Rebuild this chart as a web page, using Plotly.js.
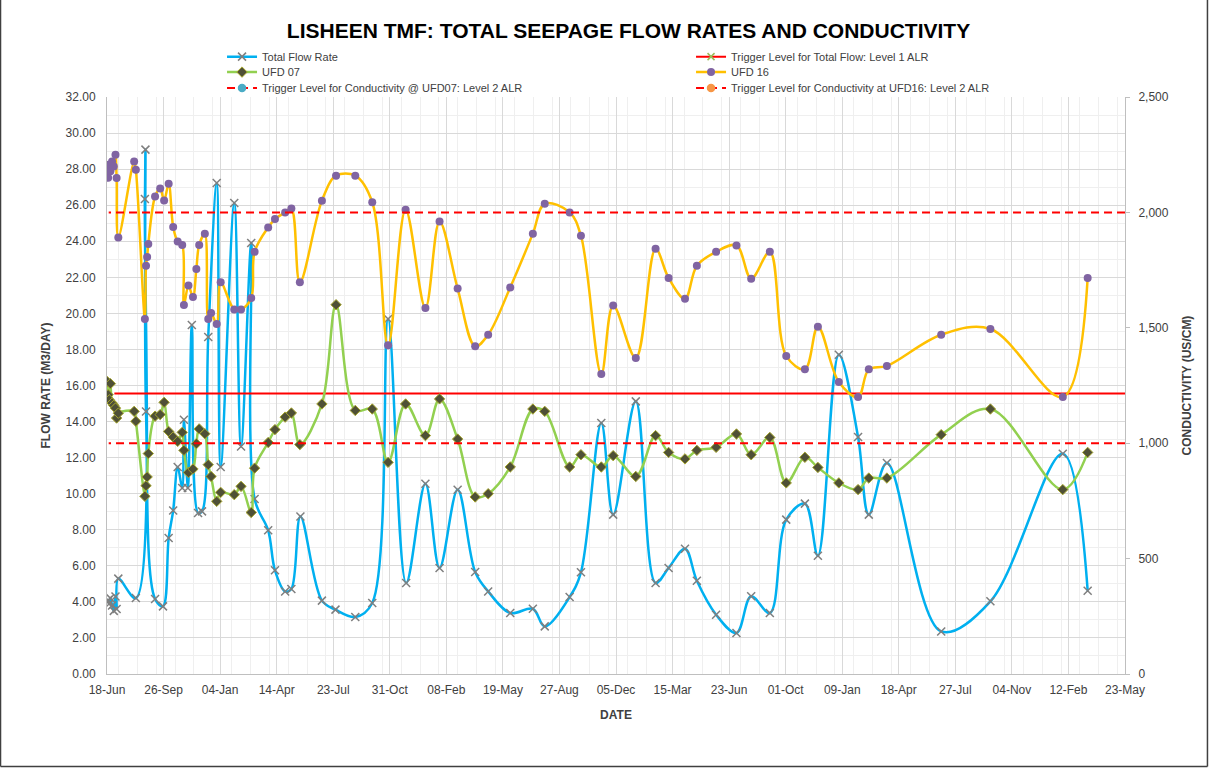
<!DOCTYPE html>
<html>
<head>
<meta charset="utf-8">
<script src="https://cdn.plot.ly/plotly-3.0.1.min.js"></script>
<style>
  body { margin: 0; background: #fff; }
  #grafico { width: 1211px; height: 769px; }
</style>
</head>
<body>
<div id="grafico"></div>
<script>
// Total flow rate (m3/day)
const fechasCaudal = [
  '2016-06-18','2016-06-20','2016-06-22','2016-06-24','2016-06-27','2016-06-30','2016-07-03','2016-07-05','2016-07-08',
  '2016-08-08','2016-08-24','2016-08-25','2016-08-26','2016-09-11','2016-09-25','2016-10-05','2016-10-13','2016-10-21',
  '2016-10-29','2016-11-01','2016-11-08','2016-11-15','2016-11-26','2016-12-03','2016-12-14','2016-12-29','2017-01-05',
  '2017-01-29','2017-02-10','2017-02-28','2017-03-06','2017-03-30','2017-04-11','2017-04-29','2017-05-10','2017-05-26',
  '2017-07-03','2017-07-27','2017-08-31','2017-09-30','2017-10-28','2017-11-29','2018-01-02','2018-01-27','2018-02-28',
  '2018-03-31','2018-04-23','2018-06-01','2018-07-11','2018-08-01','2018-09-14','2018-10-04','2018-11-09','2018-11-30',
  '2019-01-09','2019-02-13','2019-03-08','2019-04-06','2019-04-27','2019-05-31','2019-07-06','2019-08-01','2019-09-03',
  '2019-10-02','2019-11-04','2019-11-27','2020-01-03','2020-02-06','2020-02-25','2020-03-28','2020-07-02','2020-09-27',
  '2021-02-02','2021-03-18'
];
const caudalTotal = [
  4.0, 4.1, 3.9, 4.2, 3.8, 3.5, 4.3, 3.6, 5.29,
  4.21, 26.34, 29.08, 14.56, 4.16, 3.75, 7.54, 9.07, 11.48,
  10.32, 14.1, 10.32, 19.36, 8.93, 9.02, 18.69, 27.23, 11.48,
  26.12, 12.62, 23.9, 9.71, 7.97, 5.75, 4.58, 4.71, 8.74,
  4.07, 3.57, 3.16, 3.94, 19.69, 5.05, 10.55, 5.88, 10.22,
  5.66, 4.58, 3.38, 3.62, 2.64, 4.27, 5.64, 13.92, 8.84,
  15.12, 5.05, 5.88, 6.95, 5.17, 3.29, 2.27, 4.31, 3.38,
  8.56, 9.45, 6.56, 17.71, 13.14, 8.84, 11.7, 2.36, 4.03,
  12.22, 4.62
];

// Conductivity (uS/cm) at UFD 07 and UFD 16
const fechasConductividad = [
  '2016-06-18','2016-06-20','2016-06-22','2016-06-24','2016-06-27','2016-06-30','2016-07-03','2016-07-05','2016-07-08',
  '2016-08-05','2016-08-08','2016-08-24','2016-08-26','2016-08-28','2016-08-30','2016-09-11','2016-09-20','2016-09-27',
  '2016-10-05','2016-10-13','2016-10-21','2016-10-29','2016-11-01','2016-11-09','2016-11-17','2016-11-23','2016-11-28',
  '2016-12-08','2016-12-14','2016-12-19','2016-12-29','2017-01-05','2017-01-29','2017-02-10','2017-02-28','2017-03-06',
  '2017-03-30','2017-04-11','2017-04-29','2017-05-10','2017-05-25','2017-07-03','2017-07-28','2017-08-31','2017-09-30',
  '2017-10-28','2017-11-28','2018-01-02','2018-01-27','2018-02-28','2018-03-31','2018-04-23','2018-06-01','2018-07-11',
  '2018-08-01','2018-09-14','2018-10-04','2018-11-09','2018-11-30','2019-01-09','2019-02-13','2019-03-08','2019-04-06',
  '2019-04-27','2019-05-31','2019-07-06','2019-08-01','2019-09-03','2019-10-02','2019-11-04','2019-11-27','2020-01-03',
  '2020-02-06','2020-02-25','2020-03-28','2020-07-02','2020-09-27','2021-02-02','2021-03-18'
];
const ufd07 = [
  1268, 1210, 1188, 1258, 1174, 1164, 1152, 1109, 1130,
  1138, 1095, 770, 816, 854, 955, 1117, 1124, 1177,
  1051, 1027, 1008, 1047, 969, 873, 888, 998, 1062,
  1041, 907, 856, 748, 787, 777, 813, 700, 892,
  1003, 1059, 1113, 1131, 994, 1170, 1600, 1142, 1148,
  917, 1170, 1033, 1192, 1018, 767, 781, 897, 1148,
  1138, 897, 950, 897, 946, 856, 1033, 960, 932,
  969, 982, 1040, 950, 1025, 828, 939, 895, 828,
  799, 849, 849, 1037, 1148, 799, 960
];
const ufd16 = [
  2185, 2150, 2207, 2178, 2221, 2199, 2250, 2149, 1891,
  2221, 2185, 1538, 1769, 1807, 1863, 2069, 2104, 2052,
  2124, 1937, 1874, 1859, 1599, 1683, 1633, 1755, 1859,
  1908, 1538, 1564, 1517, 1697, 1579, 1579, 1629, 1829,
  1935, 1971, 2000, 2017, 1697, 2051, 2159, 2159, 2044,
  1424, 2012, 1586, 1961, 1670, 1420, 1470, 1675, 1908,
  2038, 2000, 1899, 1300, 1597, 1369, 1842, 1716, 1626,
  1769, 1829, 1857, 1713, 1829, 1378, 1320, 1505, 1265,
  1200, 1320, 1335, 1470, 1495, 1200, 1716
];

// Trigger levels (the first date sits past the axis end so its legend marker never shows on the plot)
const fechasTriggerCaudal = ['2021-07-31', '2016-07-01'];
const fechasTriggerCond = ['2021-07-31', '2016-06-21'];
const triggerCaudal = 15.55;
const triggerUfd07 = 1000;
const triggerUfd16 = 2000;

// Axis
const inicioEje = '2016-06-18';
const finEje = '2021-05-23';
const pasoDias = 100;

const DIA = 86400000;
const transparente = 'rgba(0,0,0,0)';

function lineaTrigger(fechas, valor, nombre, colorMarca, simbolo, guiones, eje, leyenda) {
  return {
    x: fechas,
    y: fechas.map(() => valor),
    name: nombre,
    legend: leyenda,
    type: 'scatter',
    mode: 'lines+markers',
    yaxis: eje,
    line: { color: '#ff0000', width: 2, dash: guiones },
    marker: {
      symbol: simbolo,
      size: 7,
      color: [colorMarca, transparente],
      line: { color: [colorMarca, transparente], width: 1.5 }
    }
  };
}

const trazas = [
  {
    x: fechasCaudal,
    y: caudalTotal,
    name: 'Total Flow Rate',
    legend: 'legend',
    type: 'scatter',
    mode: 'lines+markers',
    line: { color: '#00b0f0', width: 2.5, shape: 'spline' },
    marker: { symbol: 'x-thin-open', size: 8, color: '#7f7f7f', line: { color: '#7f7f7f', width: 1.5 } }
  },
  lineaTrigger(fechasTriggerCaudal, triggerCaudal, 'Trigger Level for Total Flow: Level 1 ALR', '#9bbb59', 'x-thin-open', 'solid', 'y', 'legend'),
  {
    x: fechasConductividad,
    y: ufd07,
    name: 'UFD 07',
    legend: 'legend2',
    type: 'scatter',
    mode: 'lines+markers',
    yaxis: 'y2',
    line: { color: '#92d050', width: 2.5, shape: 'spline' },
    marker: { symbol: 'diamond', size: 8, color: '#4f5036', line: { color: '#a6a62e', width: 1 } }
  },
  {
    x: fechasConductividad,
    y: ufd16,
    name: 'UFD 16',
    legend: 'legend2',
    type: 'scatter',
    mode: 'lines+markers',
    yaxis: 'y2',
    line: { color: '#ffc000', width: 2.5, shape: 'spline' },
    marker: { symbol: 'circle', size: 8, color: '#8064a2' }
  },
  lineaTrigger(fechasTriggerCond, triggerUfd07, 'Trigger Level for Conductivity @ UFD07: Level 2 ALR', '#4bacc6', 'circle', '8px,5px', 'y2', 'legend3'),
  lineaTrigger(fechasTriggerCond, triggerUfd16, 'Trigger Level for Conductivity at UFD16: Level 2 ALR', '#f79646', 'circle', '8px,5px', 'y2', 'legend3')
];

const fuente = 'Liberation Sans, Arial, sans-serif';

function filaLeyenda(y) {
  return {
    orientation: 'h',
    x: 0.113, xanchor: 'left',
    y: y, yanchor: 'top',
    entrywidth: 424,
    font: { family: fuente, size: 11, color: '#404040' },
    bgcolor: transparente
  };
}

// chart-area frame (left, right and bottom edges)
const marco = { type: 'line', xref: 'paper', yref: 'paper', line: { color: '#404040', width: 1.5 } };

const layout = {
  width: 1211,
  height: 769,
  paper_bgcolor: '#ffffff',
  plot_bgcolor: '#ffffff',
  margin: { l: 107, r: 86, t: 97, b: 95 },
  font: { family: fuente, size: 11, color: '#404040' },
  title: {
    text: '<b>LISHEEN TMF: TOTAL SEEPAGE FLOW RATES AND CONDUCTIVITY</b>',
    font: { family: fuente, size: 21, color: '#000000' },
    x: 0.519, xanchor: 'center', y: 0.96, yanchor: 'middle'
  },
  showlegend: true,
  legend: filaLeyenda(1.0951),
  legend2: filaLeyenda(1.0683),
  legend3: filaLeyenda(1.0406),
  shapes: [
    Object.assign({ x0: -0.1046, x1: -0.1046, y0: -0.1603, y1: 1.1681 }, marco),
    Object.assign({ x0: 1.0810, x1: 1.0810, y0: -0.1603, y1: 1.1681 }, marco),
    Object.assign({ x0: -0.1046, x1: 1.0810, y0: -0.1603, y1: -0.1603 }, marco)
  ],
  xaxis: {
    type: 'date',
    range: [inicioEje, finEje],
    tick0: inicioEje,
    dtick: pasoDias * DIA,
    tickformat: '%d-%b',
    showgrid: true,
    gridcolor: '#d9d9d9',
    minor: { dtick: pasoDias * DIA / 3, showgrid: true, gridcolor: '#efefef' },
    showline: true,
    linecolor: '#bfbfbf',
    ticks: '',
    ticklabelstandoff: 5,
    tickfont: { family: fuente, size: 12, color: '#404040' },
    title: { text: '<b>DATE</b>', font: { family: fuente, size: 12, color: '#404040' }, standoff: 14 },
    zeroline: false
  },
  yaxis: {
    range: [0, 32],
    dtick: 2,
    tickformat: '.2f',
    showgrid: true,
    gridcolor: '#d9d9d9',
    minor: { dtick: 1, showgrid: true, gridcolor: '#efefef' },
    showline: true,
    linecolor: '#bfbfbf',
    zeroline: false,
    ticks: '',
    ticklabelstandoff: 8,
    tickfont: { family: fuente, size: 12, color: '#404040' },
    title: { text: '<b>FLOW RATE (M3/DAY)</b>', font: { family: fuente, size: 12, color: '#404040' }, standoff: 12 }
  },
  yaxis2: {
    overlaying: 'y',
    side: 'right',
    range: [0, 2500],
    dtick: 500,
    tickformat: ',d',
    showgrid: false,
    showline: true,
    linecolor: '#bfbfbf',
    zeroline: false,
    ticks: 'outside',
    ticklen: 4,
    tickcolor: '#bfbfbf',
    ticklabelstandoff: 6,
    tickfont: { family: fuente, size: 12, color: '#404040' },
    title: { text: '<b>CONDUCTIVITY (US/CM)</b>', font: { family: fuente, size: 12, color: '#404040' }, standoff: 14 }
  }
};

Plotly.newPlot('grafico', trazas, layout, { displayModeBar: false, staticPlot: true });
</script>
</body>
</html>
